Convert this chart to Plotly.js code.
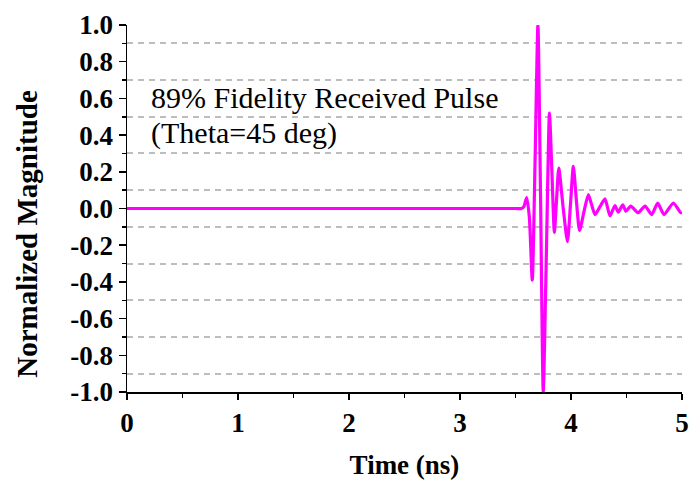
<!DOCTYPE html>
<html>
<head>
<meta charset="utf-8">
<script src="https://cdn.plot.ly/plotly-3.0.1.min.js"></script>
<style>html,body{margin:0;padding:0;background:#fff;}#chart{width:692px;height:486px;}</style>
</head>
<body>
<div id="chart"></div>
<script>
// Time (ns)
var timeNs = [0, 1, 2, 3, 3.5, 3.555, 3.575, 3.601, 3.625, 3.651, 3.676, 3.702, 3.726, 3.750, 3.778, 3.806, 3.828, 3.850, 3.870, 3.890, 3.93, 3.968, 3.995, 4.021, 4.049, 4.077, 4.116, 4.156, 4.186, 4.216, 4.261, 4.306, 4.351, 4.396, 4.426, 4.466, 4.495, 4.538, 4.606, 4.667, 4.727, 4.781, 4.838, 4.922, 4.988, 5.0];
// Normalized magnitude
var magnitude = [0, 0, 0, 0, 0, 0, 0.01, 0.06, -0.05, -0.39, 0.25, 1.0, 0.05, -1.0, -0.25, 0.52, 0.2, -0.13, 0.05, 0.22, 0.0, -0.18, 0.02, 0.23, 0.04, -0.12, -0.02, 0.076, 0.02, -0.033, 0.01, 0.053, -0.04, 0.016, -0.02, 0.02, -0.015, 0.013, -0.023, 0.013, -0.033, 0.03, -0.033, 0.03, -0.023, -0.02];

var annotationLines = ["89% Fidelity Received Pulse", "(Theta=45 deg)"];
var yTitle = "Normalized Magnitude";
var xTitle = "Time (ns)";
var yTickVals = [-1.0, -0.8, -0.6, -0.4, -0.2, 0.0, 0.2, 0.4, 0.6, 0.8, 1.0];
var yTickText = ["-1.0", "-0.8", "-0.6", "-0.4", "-0.2", "0.0", "0.2", "0.4", "0.6", "0.8", "1.0"];
var yGridVals = [-0.9, -0.7, -0.5, -0.3, -0.1, 0.1, 0.3, 0.5, 0.7, 0.9];
var xTickVals = [0, 1, 2, 3, 4, 5];
var xTickText = ["0", "1", "2", "3", "4", "5"];
var xMinorVals = [0.5, 1.5, 2.5, 3.5, 4.5];

var serif = "Liberation Serif, Times New Roman, serif";

var trace = {
  x: timeNs, y: magnitude, type: "scatter", mode: "lines",
  line: {color: "#ff00ff", width: 3.2, shape: "spline", smoothing: 0.6},
  hoverinfo: "skip", showlegend: false
};

var layout = {
  width: 692, height: 486,
  margin: {l: 127, r: 10, t: 25, b: 94},
  paper_bgcolor: "#fff", plot_bgcolor: "#fff",
  xaxis: {
    range: [0, 5], tickmode: "array", tickvals: xTickVals, ticktext: xTickText,
    ticks: "outside", ticklen: 6, tickwidth: 1.5, tickcolor: "#000",
    showline: true, linecolor: "#000", linewidth: 1.5, showgrid: false, zeroline: false,
    tickfont: {family: serif, size: 27, color: "#000", weight: "bold"},
    minor: {tickmode: "array", tickvals: xMinorVals, ticks: "outside", ticklen: 4, tickwidth: 1.5, tickcolor: "#000", showgrid: false},
    title: {text: "<b>" + xTitle + "</b>", font: {family: serif, size: 27, color: "#000"}, standoff: 18}
  },
  yaxis: {
    range: [-1, 1], tickmode: "array", tickvals: yTickVals, ticktext: yTickText,
    ticks: "outside", ticklen: 7, tickwidth: 1.5, tickcolor: "#000",
    showline: true, linecolor: "#000", linewidth: 1.5, showgrid: false, zeroline: false,
    tickfont: {family: serif, size: 27, color: "#000", weight: "bold"},
    minor: {tickmode: "array", tickvals: yGridVals, ticks: "outside", ticklen: 4, tickwidth: 1.5, tickcolor: "#000",
            showgrid: true, gridcolor: "#bdbdbd", gridwidth: 2, griddash: "6px,5px"}
  },
  annotations: [
    {xref: "paper", yref: "paper", x: 0.04, y: (392.5 - 98) / 367.5, xanchor: "left", yanchor: "middle",
     text: annotationLines[0], showarrow: false, font: {family: serif, size: 30, color: "#000"}},
    {xref: "paper", yref: "paper", x: 0.04, y: (392.5 - 133) / 367.5, xanchor: "left", yanchor: "middle",
     text: annotationLines[1], showarrow: false, font: {family: serif, size: 30, color: "#000"}},
    {xref: "paper", yref: "paper", x: (27 - 127) / 555, y: (392.5 - 234) / 367.5, xanchor: "center", yanchor: "middle",
     textangle: -90, text: "<b>" + yTitle + "</b>", showarrow: false, font: {family: serif, size: 29, color: "#000"}}
  ]
};

Plotly.newPlot("chart", [trace], layout, {displayModeBar: false, staticPlot: true});
</script>
</body>
</html>
